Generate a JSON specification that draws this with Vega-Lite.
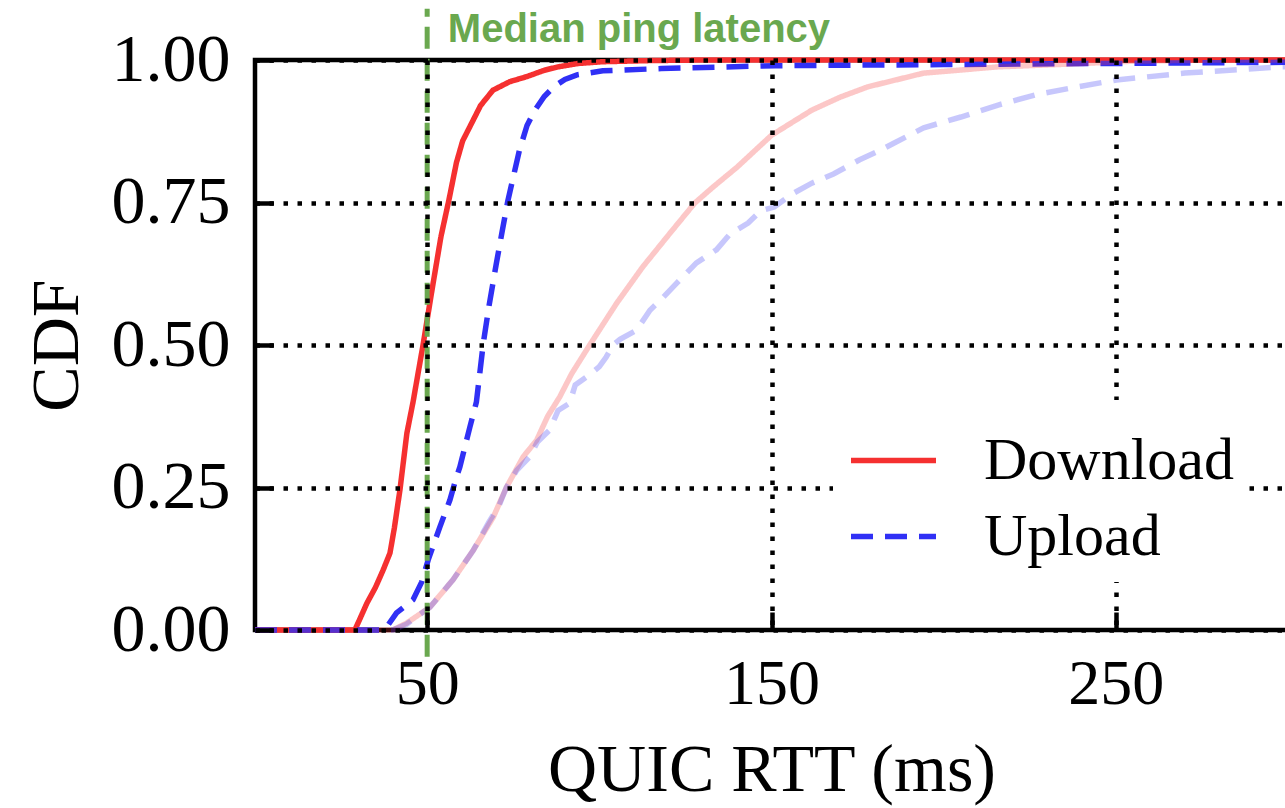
{
  "$schema": "https://vega.github.io/schema/vega-lite/v6.json",
  "width": 1033,
  "height": 570,
  "autosize": "none",
  "padding": {"left": 255, "top": 60, "right": 0, "bottom": 178},
  "background": "white",
  "config": {
    "view": {"stroke": "black", "strokeWidth": 4.5},
    "font": "Liberation Serif"
  },
  "datasets": {
    "cdf": [
      {"s": "Download", "k": "main", "x": 0, "y": 0}, {"s": "Download", "k": "main", "x": 29, "y": 0},
      {"s": "Download", "k": "main", "x": 30.5, "y": 0.02}, {"s": "Download", "k": "main", "x": 32.5, "y": 0.047},
      {"s": "Download", "k": "main", "x": 35, "y": 0.075}, {"s": "Download", "k": "main", "x": 37.2, "y": 0.105},
      {"s": "Download", "k": "main", "x": 39.2, "y": 0.135}, {"s": "Download", "k": "main", "x": 40.5, "y": 0.18},
      {"s": "Download", "k": "main", "x": 42.1, "y": 0.246}, {"s": "Download", "k": "main", "x": 44.1, "y": 0.345},
      {"s": "Download", "k": "main", "x": 45.9, "y": 0.4}, {"s": "Download", "k": "main", "x": 48.8, "y": 0.5},
      {"s": "Download", "k": "main", "x": 51.5, "y": 0.6}, {"s": "Download", "k": "main", "x": 54, "y": 0.69},
      {"s": "Download", "k": "main", "x": 56.3, "y": 0.754}, {"s": "Download", "k": "main", "x": 58.5, "y": 0.82},
      {"s": "Download", "k": "main", "x": 60.3, "y": 0.858}, {"s": "Download", "k": "main", "x": 62.4, "y": 0.883},
      {"s": "Download", "k": "main", "x": 65.5, "y": 0.92}, {"s": "Download", "k": "main", "x": 69.1, "y": 0.947},
      {"s": "Download", "k": "main", "x": 74, "y": 0.962}, {"s": "Download", "k": "main", "x": 79, "y": 0.971},
      {"s": "Download", "k": "main", "x": 84, "y": 0.982}, {"s": "Download", "k": "main", "x": 88, "y": 0.988},
      {"s": "Download", "k": "main", "x": 94, "y": 0.994}, {"s": "Download", "k": "main", "x": 101, "y": 0.997},
      {"s": "Download", "k": "main", "x": 115, "y": 0.999}, {"s": "Download", "k": "main", "x": 130, "y": 1.0},
      {"s": "Download", "k": "main", "x": 300, "y": 1.0},

      {"s": "Upload", "k": "main", "x": 0, "y": 0}, {"s": "Upload", "k": "main", "x": 37, "y": 0},
      {"s": "Upload", "k": "main", "x": 38.2, "y": 0.005}, {"s": "Upload", "k": "main", "x": 41.1, "y": 0.03},
      {"s": "Upload", "k": "main", "x": 45.9, "y": 0.053}, {"s": "Upload", "k": "main", "x": 48.4, "y": 0.084},
      {"s": "Upload", "k": "main", "x": 50.3, "y": 0.123}, {"s": "Upload", "k": "main", "x": 53.7, "y": 0.181},
      {"s": "Upload", "k": "main", "x": 56.6, "y": 0.228}, {"s": "Upload", "k": "main", "x": 58.5, "y": 0.268},
      {"s": "Upload", "k": "main", "x": 59.5, "y": 0.286}, {"s": "Upload", "k": "main", "x": 62.4, "y": 0.356},
      {"s": "Upload", "k": "main", "x": 64.3, "y": 0.4}, {"s": "Upload", "k": "main", "x": 66.3, "y": 0.503},
      {"s": "Upload", "k": "main", "x": 68, "y": 0.57}, {"s": "Upload", "k": "main", "x": 70, "y": 0.64},
      {"s": "Upload", "k": "main", "x": 71.8, "y": 0.7}, {"s": "Upload", "k": "main", "x": 73.4, "y": 0.752},
      {"s": "Upload", "k": "main", "x": 76.8, "y": 0.842}, {"s": "Upload", "k": "main", "x": 79, "y": 0.885},
      {"s": "Upload", "k": "main", "x": 81.3, "y": 0.912}, {"s": "Upload", "k": "main", "x": 84, "y": 0.936},
      {"s": "Upload", "k": "main", "x": 86.8, "y": 0.953}, {"s": "Upload", "k": "main", "x": 90, "y": 0.966},
      {"s": "Upload", "k": "main", "x": 93.5, "y": 0.974}, {"s": "Upload", "k": "main", "x": 101, "y": 0.981},
      {"s": "Upload", "k": "main", "x": 118, "y": 0.985}, {"s": "Upload", "k": "main", "x": 151, "y": 0.99},
      {"s": "Upload", "k": "main", "x": 200, "y": 0.992}, {"s": "Upload", "k": "main", "x": 250, "y": 0.994},
      {"s": "Upload", "k": "main", "x": 300, "y": 0.996},

      {"s": "Download", "k": "pale", "x": 0, "y": 0}, {"s": "Download", "k": "pale", "x": 40, "y": 0},
      {"s": "Download", "k": "pale", "x": 44, "y": 0.012}, {"s": "Download", "k": "pale", "x": 50.8, "y": 0.04},
      {"s": "Download", "k": "pale", "x": 57.5, "y": 0.088}, {"s": "Download", "k": "pale", "x": 63.4, "y": 0.14},
      {"s": "Download", "k": "pale", "x": 69.2, "y": 0.198}, {"s": "Download", "k": "pale", "x": 73, "y": 0.25},
      {"s": "Download", "k": "pale", "x": 77.9, "y": 0.304}, {"s": "Download", "k": "pale", "x": 81.8, "y": 0.333},
      {"s": "Download", "k": "pale", "x": 85, "y": 0.375}, {"s": "Download", "k": "pale", "x": 88.5, "y": 0.409},
      {"s": "Download", "k": "pale", "x": 92, "y": 0.45}, {"s": "Download", "k": "pale", "x": 97.2, "y": 0.5},
      {"s": "Download", "k": "pale", "x": 105, "y": 0.573}, {"s": "Download", "k": "pale", "x": 112.6, "y": 0.637},
      {"s": "Download", "k": "pale", "x": 120.5, "y": 0.696}, {"s": "Download", "k": "pale", "x": 127.7, "y": 0.749},
      {"s": "Download", "k": "pale", "x": 133, "y": 0.777}, {"s": "Download", "k": "pale", "x": 140, "y": 0.812},
      {"s": "Download", "k": "pale", "x": 150, "y": 0.868}, {"s": "Download", "k": "pale", "x": 161.7, "y": 0.912},
      {"s": "Download", "k": "pale", "x": 170, "y": 0.935}, {"s": "Download", "k": "pale", "x": 178, "y": 0.953},
      {"s": "Download", "k": "pale", "x": 194.2, "y": 0.977}, {"s": "Download", "k": "pale", "x": 215.8, "y": 0.988},
      {"s": "Download", "k": "pale", "x": 237, "y": 0.993}, {"s": "Download", "k": "pale", "x": 255, "y": 0.998},
      {"s": "Download", "k": "pale", "x": 280, "y": 1.0}, {"s": "Download", "k": "pale", "x": 300, "y": 1.0},

      {"s": "Upload", "k": "pale", "x": 0, "y": 0}, {"s": "Upload", "k": "pale", "x": 40, "y": 0},
      {"s": "Upload", "k": "pale", "x": 44, "y": 0.01}, {"s": "Upload", "k": "pale", "x": 50.8, "y": 0.04},
      {"s": "Upload", "k": "pale", "x": 57.5, "y": 0.088}, {"s": "Upload", "k": "pale", "x": 63.4, "y": 0.14},
      {"s": "Upload", "k": "pale", "x": 68, "y": 0.19}, {"s": "Upload", "k": "pale", "x": 71, "y": 0.22},
      {"s": "Upload", "k": "pale", "x": 73, "y": 0.25}, {"s": "Upload", "k": "pale", "x": 76, "y": 0.28},
      {"s": "Upload", "k": "pale", "x": 79.8, "y": 0.304}, {"s": "Upload", "k": "pale", "x": 82, "y": 0.33},
      {"s": "Upload", "k": "pale", "x": 85.6, "y": 0.351}, {"s": "Upload", "k": "pale", "x": 88, "y": 0.385},
      {"s": "Upload", "k": "pale", "x": 91.4, "y": 0.398}, {"s": "Upload", "k": "pale", "x": 93, "y": 0.43},
      {"s": "Upload", "k": "pale", "x": 96.3, "y": 0.444}, {"s": "Upload", "k": "pale", "x": 100, "y": 0.462},
      {"s": "Upload", "k": "pale", "x": 102, "y": 0.479}, {"s": "Upload", "k": "pale", "x": 104, "y": 0.5},
      {"s": "Upload", "k": "pale", "x": 106, "y": 0.51}, {"s": "Upload", "k": "pale", "x": 110.8, "y": 0.526},
      {"s": "Upload", "k": "pale", "x": 114.7, "y": 0.561}, {"s": "Upload", "k": "pale", "x": 118, "y": 0.58},
      {"s": "Upload", "k": "pale", "x": 122.4, "y": 0.608}, {"s": "Upload", "k": "pale", "x": 128.2, "y": 0.644},
      {"s": "Upload", "k": "pale", "x": 134, "y": 0.667}, {"s": "Upload", "k": "pale", "x": 138, "y": 0.695},
      {"s": "Upload", "k": "pale", "x": 143.2, "y": 0.714}, {"s": "Upload", "k": "pale", "x": 147, "y": 0.736},
      {"s": "Upload", "k": "pale", "x": 150.8, "y": 0.742}, {"s": "Upload", "k": "pale", "x": 156, "y": 0.765},
      {"s": "Upload", "k": "pale", "x": 161.7, "y": 0.784}, {"s": "Upload", "k": "pale", "x": 168, "y": 0.8},
      {"s": "Upload", "k": "pale", "x": 175.6, "y": 0.825}, {"s": "Upload", "k": "pale", "x": 181, "y": 0.84},
      {"s": "Upload", "k": "pale", "x": 185.5, "y": 0.854}, {"s": "Upload", "k": "pale", "x": 194.2, "y": 0.881},
      {"s": "Upload", "k": "pale", "x": 205, "y": 0.9}, {"s": "Upload", "k": "pale", "x": 215.8, "y": 0.921},
      {"s": "Upload", "k": "pale", "x": 226.7, "y": 0.939}, {"s": "Upload", "k": "pale", "x": 238, "y": 0.952},
      {"s": "Upload", "k": "pale", "x": 250.2, "y": 0.965}, {"s": "Upload", "k": "pale", "x": 270, "y": 0.977},
      {"s": "Upload", "k": "pale", "x": 298, "y": 0.988}, {"s": "Upload", "k": "pale", "x": 300, "y": 0.988}
    ],
    "median": [{"lat": 50, "lo": -0.047, "hi": 1.09}],
    "note": [{"x": 56, "y": 1.0316, "t": "Median ping latency"}]
  },
  "layer": [
    {
      "data": {"name": "cdf"},
      "mark": {"type": "line", "strokeWidth": 5.5, "strokeCap": "butt"},
      "encoding": {
        "x": {
          "field": "x", "type": "quantitative",
          "scale": {"domain": [0, 300], "nice": false, "zero": false},
          "axis": {
            "values": [50, 150, 250], "grid": true, "gridColor": "black", "gridDash": [4.5, 9.5], "gridWidth": 4.5, "gridOpacity": 1,
            "domain": false, "tickSize": -18, "tickWidth": 4.5, "tickColor": "black",
            "labelFont": "Liberation Serif", "labelFontSize": 64, "labelColor": "black", "labelPadding": 40,
            "title": "QUIC RTT (ms)", "titleFont": "Liberation Serif", "titleFontSize": 68, "titleFontWeight": "normal", "titleColor": "black", "titlePadding": 20,
            "zindex": 1
          }
        },
        "y": {
          "field": "y", "type": "quantitative",
          "scale": {"domain": [0, 1], "nice": false},
          "axis": {
            "values": [0, 0.25, 0.5, 0.75, 1], "format": ".2f", "grid": true, "gridColor": "black", "gridDash": [4.5, 9.5], "gridWidth": 4.5, "gridOpacity": 1,
            "domain": false, "tickSize": -18, "tickWidth": 4.5, "tickColor": "black",
            "labelFont": "Liberation Serif", "labelFontSize": 68, "labelColor": "black", "labelPadding": 43,
            "title": "CDF", "titleFont": "Liberation Serif", "titleFontSize": 68, "titleFontWeight": "normal", "titleColor": "black", "titlePadding": 20,
            "zindex": 1
          }
        },
        "color": {
          "field": "s", "type": "nominal",
          "scale": {"domain": ["Download", "Upload"], "range": ["#f53030", "#3030f5"]},
          "legend": {
            "title": null, "orient": "none", "legendX": 578, "legendY": 340,
            "symbolType": "stroke", "symbolSize": 7225, "symbolStrokeWidth": 5.5,
            "labelFont": "Liberation Serif", "labelFontSize": 60, "labelColor": "black", "labelOffset": 45, "labelLimit": 500,
            "padding": 15, "fillColor": "white", "rowPadding": 0, "zindex": 2
          }
        },
        "strokeDash": {
          "field": "s", "type": "nominal",
          "scale": {"domain": ["Download", "Upload"], "range": [[1, 0], [22, 12]]}
        },
        "opacity": {
          "field": "k", "type": "nominal",
          "scale": {"domain": ["main", "pale"], "range": [1, 0.27]},
          "legend": null
        }
      }
    },
    {
      "data": {"name": "median"},
      "mark": {"type": "rule", "color": "#6aa84f", "strokeWidth": 5, "strokeDash": [22, 10]},
      "encoding": {
        "x": {"field": "lat", "type": "quantitative"},
        "y": {"field": "lo", "type": "quantitative"},
        "y2": {"field": "hi"}
      }
    },
    {
      "data": {"name": "note"},
      "mark": {"type": "text", "align": "left", "baseline": "alphabetic", "font": "Liberation Sans", "fontWeight": "bold", "fontSize": 40, "color": "#6aa84f"},
      "encoding": {
        "x": {"field": "x", "type": "quantitative"},
        "y": {"field": "y", "type": "quantitative"},
        "text": {"field": "t"}
      }
    }
  ]
}
